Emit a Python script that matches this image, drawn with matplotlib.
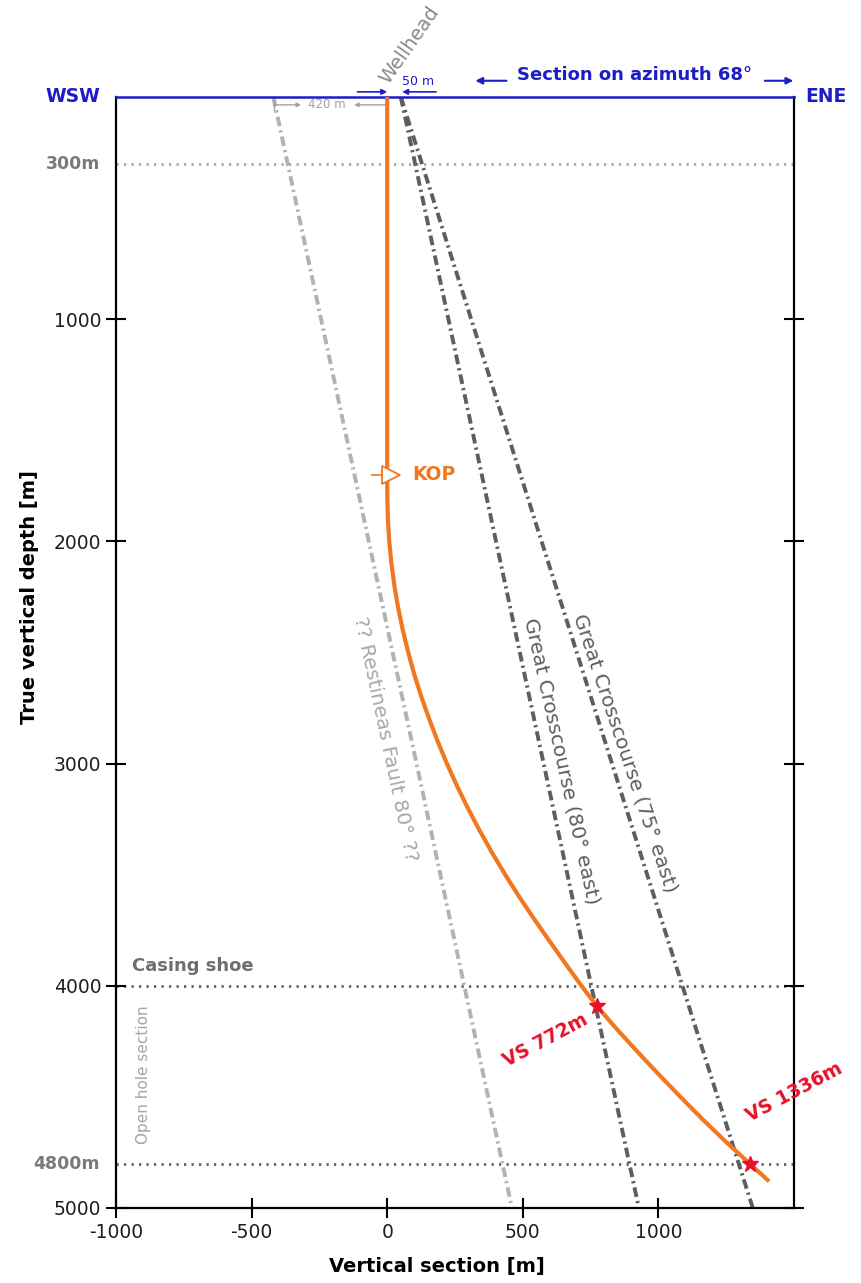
import matplotlib
matplotlib.use("Agg")
import matplotlib.pyplot as plt
from matplotlib.transforms import blended_transform_factory

plt.rcParams['font.family'] = ['DejaVu Sans']
plt.rcParams['lines.scale_dashes'] = False

# ---------------- data ----------------
# Well trajectory: true vertical depth [m] and vertical section [m]
well_tvd = [0, 1700, 1800, 1900, 2000, 2100, 2200, 2300, 2400, 2500, 2600, 2700,
            2800, 2900, 3000, 3100, 3200, 3300, 3400, 3500, 3600, 3700, 3800,
            3900, 4000, 4090, 4200, 4300, 4400, 4500, 4600, 4700, 4800, 4880]
well_vs = [0, 0, 0.5, 2.5, 7.5, 15.5, 26.5, 40.5, 57.5, 77.5, 100, 126,
           155, 186, 220, 257, 297, 340, 386, 435, 487, 542, 599,
           657, 716, 772, 850, 925, 1002, 1081, 1162, 1247, 1336, 1408]

# Faults: surface and 5000 m intersections (vertical section [m])
fault_depths = [0, 5000]
restineas_vs = [-420, 460]
crosscourse80_vs = [50, 928]
crosscourse75_vs = [50, 1348]

# Key depths
kop_depth = 1700
marker_depths = [300, 4000, 4800]
vs_points_x = [772, 1336]
vs_points_tvd = [4090, 4800]
vs_labels = ['VS 772m', 'VS 1336m']

xticks = [-1000, -500, 0, 500, 1000]
yticks = [1000, 2000, 3000, 4000, 5000]

# ---------------- figure ----------------
fig = plt.figure(figsize=(8.62, 12.83), dpi=100)
ax = fig.add_axes([0.1346, 0.0585, 0.7865, 0.866])
ax.set_xlim(-1000, 1500)
ax.set_ylim(5000, 0)

orange = '#f07820'
blue = '#1c1cc8'
dark = '#5e5e5e'
light = '#b2b2b2'
red = '#e8102a'

dashdot = (0, (7, 3, 1.6, 3))
dotted = (0, (1.6, 3.8))

# horizontal marker lines
ax.axhline(marker_depths[0], color='#a8a8a8', lw=2, ls=dotted, zorder=1)
ax.axhline(marker_depths[1], color='#606060', lw=2, ls=dotted, zorder=1)
ax.axhline(marker_depths[2], color='#606060', lw=2, ls=dotted, zorder=1)

# faults
ax.plot(restineas_vs, fault_depths, color=light, lw=2.8, ls=dashdot, zorder=2)
ax.plot(crosscourse80_vs, fault_depths, color=dark, lw=2.8, ls=dashdot, zorder=2)
ax.plot(crosscourse75_vs, fault_depths, color=dark, lw=2.8, ls=dashdot, zorder=2)

# well
ax.plot(well_vs, well_tvd, color=orange, lw=3.0, solid_capstyle='butt',
        solid_joinstyle='round', zorder=4)

# VS stars
ax.plot(vs_points_x, vs_points_tvd, ls='none', marker='*', ms=12, color=red, zorder=5)

# KOP marker
ax.plot([-55, -10], [kop_depth, kop_depth], color=orange, lw=1.2, zorder=5)
ax.plot([15], [kop_depth], marker='>', ms=13, mfc='white', mec=orange, mew=1.3,
        ls='none', zorder=6)
ax.text(92, kop_depth, 'KOP', color=orange, fontsize=13.5, fontweight='bold',
        ha='left', va='center')

# fault labels
ax.text(641, 2988, 'Great Crosscourse (80° east)', color=dark, fontsize=14.5,
        rotation=-77.5, rotation_mode='anchor', ha='center', va='center')
ax.text(876, 2952, 'Great Crosscourse (75° east)', color=dark, fontsize=14.5,
        rotation=-71.5, rotation_mode='anchor', ha='center', va='center')
ax.text(-7, 2889, '?? Restineas Fault 80° ??', color='#a8a8a8', fontsize=14.5,
        rotation=-78, rotation_mode='anchor', ha='center', va='center')

# VS labels
ax.text(582, 4244, vs_labels[0], color=red, fontsize=13.5, fontweight='bold',
        rotation=28, rotation_mode='anchor', ha='center', va='center')
ax.text(1500, 4480, vs_labels[1], color=red, fontsize=13.5, fontweight='bold',
        rotation=28, rotation_mode='anchor', ha='center', va='center', clip_on=False)

# casing shoe / open hole
ax.text(-941, 3911, 'Casing shoe', color='#6e6e6e', fontsize=13, fontweight='bold',
        ha='left', va='center')
ax.text(-898, 4401, 'Open hole section', color='#a4a4a4', fontsize=11,
        rotation=90, ha='center', va='center')

# left extra depth labels
trans_y = blended_transform_factory(ax.transAxes, ax.transData)
ax.text(-0.024, marker_depths[0], '300m', transform=trans_y, color='#7a7a7a',
        fontsize=12.5, fontweight='bold', ha='right', va='center')
ax.text(-0.024, marker_depths[2], '4800m', transform=trans_y, color='#7a7a7a',
        fontsize=12.5, fontweight='bold', ha='right', va='center')

# top annotations
ax.text(-0.024, 1.0, 'WSW', transform=ax.transAxes, color=blue, fontsize=13.5,
        fontweight='bold', ha='right', va='center')
ax.text(1.016, 1.0, 'ENE', transform=ax.transAxes, color=blue, fontsize=13.5,
        fontweight='bold', ha='left', va='center')
ax.text(0.765, 1.0198, 'Section on azimuth 68°', transform=ax.transAxes, color=blue,
        fontsize=13, fontweight='bold', ha='center', va='center')
ax.annotate('', xy=(0.530, 1.0145), xytext=(0.576, 1.0145), xycoords='axes fraction',
            arrowprops=dict(arrowstyle='-|>', color=blue, lw=1.5, mutation_scale=10,
                            shrinkA=0, shrinkB=0))
ax.annotate('', xy=(0.999, 1.0145), xytext=(0.957, 1.0145), xycoords='axes fraction',
            arrowprops=dict(arrowstyle='-|>', color=blue, lw=1.5, mutation_scale=10,
                            shrinkA=0, shrinkB=0))

ax.text(0.4336, 1.047, 'Wellhead', transform=ax.transAxes, color='#8a8a8a',
        fontsize=14, rotation=55, ha='center', va='center')

# 50 m dimension
ax.text(0.4454, 1.0135, '50 m', transform=ax.transAxes, color=blue, fontsize=9,
        ha='center', va='center')
blend_xa = ('data', 'axes fraction')
ax.annotate('', xy=(0, 1.0045), xytext=(-110, 1.0045), xycoords=blend_xa,
            arrowprops=dict(arrowstyle='-|>', color=blue, lw=1.2, mutation_scale=8,
                            shrinkA=0, shrinkB=0))
ax.annotate('', xy=(55, 1.0045), xytext=(180, 1.0045), xycoords=blend_xa,
            arrowprops=dict(arrowstyle='-|>', color=blue, lw=1.2, mutation_scale=8,
                            shrinkA=0, shrinkB=0))

# 420 m dimension
ax.text(-221, 36, '420 m', color='#a0a0a0', fontsize=8.5, ha='center', va='center')
ax.plot([-418, -418], [15, 57], color='#a0a0a0', lw=1)
ax.annotate('', xy=(-318, 36), xytext=(-418, 36), xycoords='data',
            arrowprops=dict(arrowstyle='-|>', color='#a0a0a0', lw=1, mutation_scale=6,
                            shrinkA=0, shrinkB=0))
ax.annotate('', xy=(-122, 36), xytext=(-5, 36), xycoords='data',
            arrowprops=dict(arrowstyle='-|>', color='#a0a0a0', lw=1, mutation_scale=6,
                            shrinkA=0, shrinkB=0))

# axes styling
for s in ['left', 'bottom', 'right']:
    ax.spines[s].set_linewidth(1.6)
    ax.spines[s].set_color('black')
ax.spines['top'].set_linewidth(1.8)
ax.spines['top'].set_color(blue)

ax.set_xticks(xticks)
ax.set_xticklabels([str(v) for v in xticks])
ax.set_yticks(yticks)
ax.set_yticklabels([str(v) for v in yticks])
ax.tick_params(axis='both', direction='inout', length=15, width=1.5, labelsize=13.5,
               labelcolor='#1e1e1e')
ax.tick_params(axis='y', right=True, labelright=False, pad=3)
ax.tick_params(axis='x', pad=3)

ax.set_xlabel('Vertical section [m]', fontsize=14, fontweight='bold')
ax.set_ylabel('True vertical depth [m]', fontsize=14, fontweight='bold')
ax.xaxis.set_label_coords(0.473, -0.044)
ax.yaxis.set_label_coords(-0.113, 0.55)

fig.savefig('out.png', dpi=100)
